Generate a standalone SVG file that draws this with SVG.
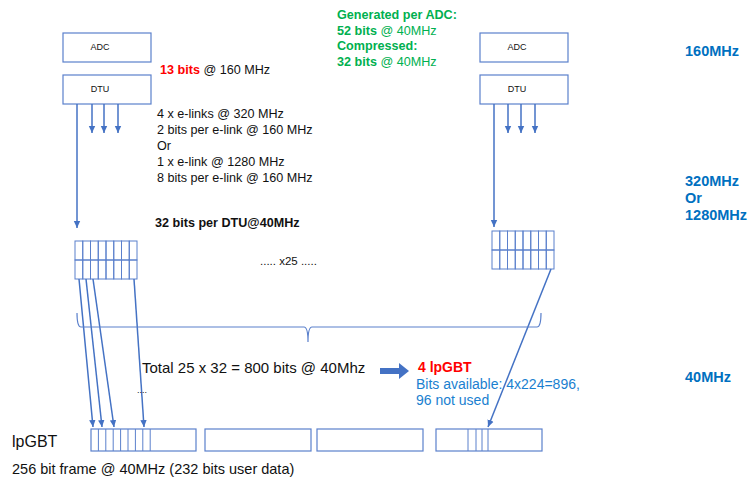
<svg xmlns="http://www.w3.org/2000/svg" width="749" height="478" viewBox="0 0 749 478">
<style>
text{font-family:"Liberation Sans",Arial,sans-serif;fill:#111}
.box{fill:#fff;stroke:#5b80cc;stroke-width:1.2}
.cell{fill:none;stroke:#5b80cc;stroke-width:1}
.ln{stroke:#4472c4;stroke-width:1.5;fill:none}
.lbl{font-size:9px}
.t{font-size:12.6px}
.b{font-weight:bold}
.g{fill:#00b050}
.freq{font-size:14.5px;font-weight:bold;fill:#0070c0}
.blue{fill:#1a7fd0;font-size:14px}
</style>
<defs>
<marker id="ah" markerWidth="8" markerHeight="8" refX="7" refY="4" orient="auto" markerUnits="userSpaceOnUse">
<path d="M0,0.8 L7,4 L0,7.2 z" fill="#4472c4"/>
</marker>
</defs>

<g id="adc-left"><rect class="box" x="63" y="33" width="88" height="29"/><text class="lbl" x="100" y="50" text-anchor="middle">ADC</text></g>
<g id="dtu-left"><rect class="box" x="63" y="75" width="88" height="29"/><text class="lbl" x="100" y="92" text-anchor="middle">DTU</text></g>
<g id="adc-right"><rect class="box" x="480" y="33" width="88" height="29"/><text class="lbl" x="517" y="50" text-anchor="middle">ADC</text></g>
<g id="dtu-right"><rect class="box" x="480" y="75" width="88" height="29"/><text class="lbl" x="517" y="92" text-anchor="middle">DTU</text></g>

<g id="stack-left">
<rect class="cell" x="75" y="241" width="7.75" height="19"/><rect class="cell" x="75" y="260" width="7.75" height="19"/>
<rect class="cell" x="82.75" y="241" width="7.75" height="19"/><rect class="cell" x="82.75" y="260" width="7.75" height="19"/>
<rect class="cell" x="90.5" y="241" width="7.75" height="19"/><rect class="cell" x="90.5" y="260" width="7.75" height="19"/>
<rect class="cell" x="98.25" y="241" width="7.75" height="19"/><rect class="cell" x="98.25" y="260" width="7.75" height="19"/>
<rect class="cell" x="106" y="241" width="7.75" height="19"/><rect class="cell" x="106" y="260" width="7.75" height="19"/>
<rect class="cell" x="113.75" y="241" width="7.75" height="19"/><rect class="cell" x="113.75" y="260" width="7.75" height="19"/>
<rect class="cell" x="121.5" y="241" width="7.75" height="19"/><rect class="cell" x="121.5" y="260" width="7.75" height="19"/>
<rect class="cell" x="129.25" y="241" width="7.75" height="19"/><rect class="cell" x="129.25" y="260" width="7.75" height="19"/>
</g>
<g id="stack-right">
<rect class="cell" x="492" y="231" width="7.75" height="19"/><rect class="cell" x="492" y="250" width="7.75" height="19"/>
<rect class="cell" x="499.75" y="231" width="7.75" height="19"/><rect class="cell" x="499.75" y="250" width="7.75" height="19"/>
<rect class="cell" x="507.5" y="231" width="7.75" height="19"/><rect class="cell" x="507.5" y="250" width="7.75" height="19"/>
<rect class="cell" x="515.25" y="231" width="7.75" height="19"/><rect class="cell" x="515.25" y="250" width="7.75" height="19"/>
<rect class="cell" x="523" y="231" width="7.75" height="19"/><rect class="cell" x="523" y="250" width="7.75" height="19"/>
<rect class="cell" x="530.75" y="231" width="7.75" height="19"/><rect class="cell" x="530.75" y="250" width="7.75" height="19"/>
<rect class="cell" x="538.5" y="231" width="7.75" height="19"/><rect class="cell" x="538.5" y="250" width="7.75" height="19"/>
<rect class="cell" x="546.25" y="231" width="7.75" height="19"/><rect class="cell" x="546.25" y="250" width="7.75" height="19"/>
</g>

<g id="frame1">
<rect class="box" x="91" y="429" width="105" height="22"/>
<path class="cell" d="M98.4,429v22M105.8,429v22M113.2,429v22M120.6,429v22M128,429v22M135.4,429v22M142.8,429v22M150.2,429v22"/>
</g>
<g id="frame2"><rect class="box" x="205" y="429" width="106" height="22"/></g>
<g id="frame3"><rect class="box" x="317" y="429" width="106" height="22"/></g>
<g id="frame4">
<rect class="box" x="436" y="429" width="106" height="22"/>
<path class="cell" d="M468,429v22M476,429v22M482,429v22M488,429v22"/>
</g>

<g id="connectors">
<line class="ln" x1="77" y1="104" x2="77" y2="228" marker-end="url(#ah)"/>
<line class="ln" x1="92" y1="104" x2="92" y2="133" marker-end="url(#ah)"/>
<line class="ln" x1="104" y1="104" x2="104" y2="133" marker-end="url(#ah)"/>
<line class="ln" x1="118" y1="104" x2="118" y2="133" marker-end="url(#ah)"/>
<line class="ln" x1="494" y1="104" x2="494" y2="227" marker-end="url(#ah)"/>
<line class="ln" x1="508" y1="104" x2="508" y2="133" marker-end="url(#ah)"/>
<line class="ln" x1="521" y1="104" x2="521" y2="133" marker-end="url(#ah)"/>
<line class="ln" x1="535" y1="104" x2="535" y2="133" marker-end="url(#ah)"/>
<line class="ln" x1="79" y1="279" x2="93" y2="427" marker-end="url(#ah)"/>
<line class="ln" x1="86" y1="279" x2="102" y2="427" marker-end="url(#ah)"/>
<line class="ln" x1="93" y1="279" x2="114" y2="427" marker-end="url(#ah)"/>
<line class="ln" x1="134" y1="279" x2="144" y2="427" marker-end="url(#ah)"/>
<line class="ln" x1="551" y1="269" x2="488" y2="427" marker-end="url(#ah)"/>
<path d="M77,313 Q77,327 81,327 L304,327 Q308,327 308,342 Q308,327 312,327 L537,327 Q541,327 541,313" fill="none" stroke="#5b80cc" stroke-width="1.2"/>
<path d="M380,368 L399,368 L399,363 L409,371 L399,379 L399,374 L380,374 z" fill="#4472c4"/>
</g>

<g id="labels">
<text class="t" x="160" y="74"><tspan class="b" fill="#ff0000" style="fill:#ff0000">13 bits</tspan> @ 160 MHz</text>
<text class="t" x="157" y="118">4 x e-links @ 320 MHz</text>
<text class="t" x="157" y="134">2 bits per e-link @ 160 MHz</text>
<text class="t" x="157" y="150">Or</text>
<text class="t" x="157" y="166">1 x e-link @ 1280 MHz</text>
<text class="t" x="157" y="182">8 bits per e-link @ 160 MHz</text>
<text class="t b" x="155" y="227">32 bits per DTU@40MHz</text>
<text class="t g b" x="337" y="19">Generated per ADC:</text>
<text class="t g" x="337" y="35"><tspan class="b">52 bits</tspan> @ 40MHz</text>
<text class="t g b" x="337" y="50">Compressed:</text>
<text class="t g" x="337" y="66"><tspan class="b">32 bits</tspan> @ 40MHz</text>
<text class="freq" x="685" y="56">160MHz</text>
<text class="freq" x="685" y="186">320MHz</text>
<text class="freq" x="685" y="203">Or</text>
<text class="freq" x="685" y="220">1280MHz</text>
<text class="freq" x="685" y="382">40MHz</text>
<text x="260" y="265" style="font-size:11.5px">.....  x25 .....</text>
<text x="142" y="373" style="font-size:15px">Total 25 x 32 = 800 bits @ 40Mhz</text>
<text x="137" y="393" style="font-size:9px">....</text>
<text x="418" y="372" style="font-size:14px;font-weight:bold;fill:#ff0000">4 lpGBT</text>
<text class="blue" x="416" y="389">Bits available: 4x224=896,</text>
<text class="blue" x="416" y="405">96 not used</text>
<text x="12" y="447" style="font-size:16px">lpGBT</text>
<text x="12" y="474" style="font-size:14.5px">256 bit frame @ 40MHz (232 bits user data)</text>
</g>
</svg>
